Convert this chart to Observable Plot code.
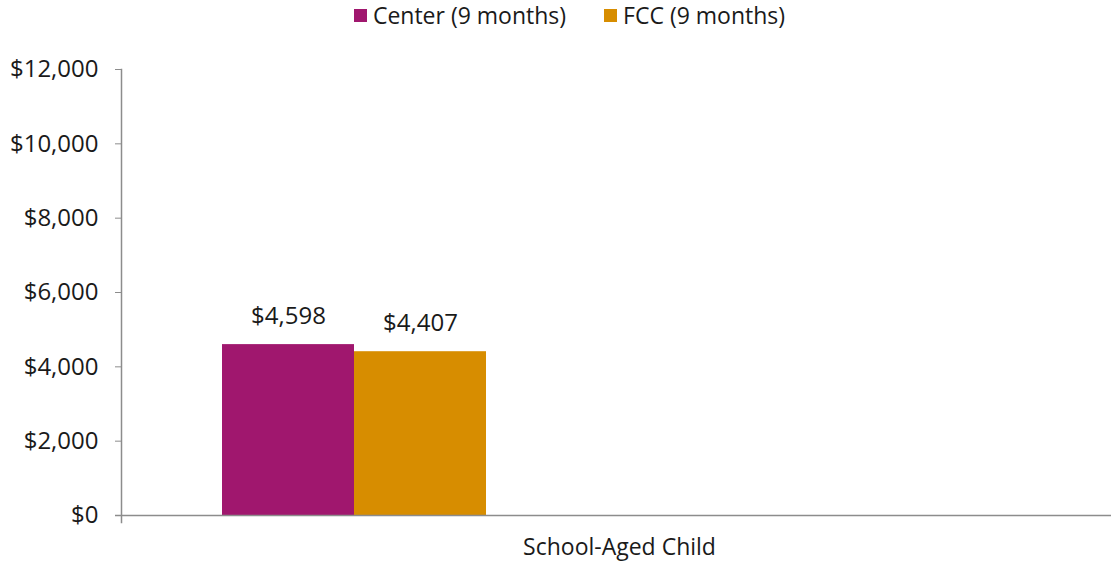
<!DOCTYPE html>
<html>
<head>
<meta charset="utf-8">
<script src="https://cdn.jsdelivr.net/npm/d3@7"></script>
<script src="https://cdn.jsdelivr.net/npm/@observablehq/plot@0.6"></script>
<style>
  html, body { margin: 0; padding: 0; background: #fff; }
  body { width: 1111px; height: 564px; overflow: hidden; font-family: "Open Sans", sans-serif; color: #1a1a1a; }
  #legend { height: 30px; display: flex; justify-content: center; align-items: center; padding-left: 28px; box-sizing: border-box; font-size: 23px; }
  .item { display: flex; align-items: center; margin: 0 19px; }
  .sw { width: 13px; height: 13px; margin-right: 6px; }
</style>
</head>
<body>
<div id="legend"></div>
<div id="chart"></div>
<script>
const categories = ["School-Aged Child"];
const series = ["Center (9 months)", "FCC (9 months)"];
const values = [4598, 4407];
const colors = ["#A0176E", "#D78D00"];
const yTicks = [0, 2000, 4000, 6000, 8000, 10000, 12000];

const data = series.map((s, i) => ({category: categories[0], series: s, value: values[i]}));
const fmt = d => "$" + d3.format(",")(d);

const legend = document.getElementById("legend");
series.forEach((s, i) => {
  const it = document.createElement("div");
  it.className = "item";
  it.innerHTML = `<span class="sw" style="background:${colors[i]}"></span><span>${s}</span>`;
  legend.appendChild(it);
});

const chart = Plot.plot({
  width: 1111,
  height: 534,
  marginTop: 39,
  marginBottom: 49,
  marginLeft: 121,
  marginRight: 0,
  style: {fontFamily: "Open Sans, sans-serif", fontSize: "23px", color: "#1a1a1a", background: "#fff"},
  fx: {domain: categories, padding: 0, label: null},
  x: {domain: series, paddingInner: 0, paddingOuter: 2.74, align: 0.139, axis: null},
  y: {domain: [0, 12000], label: null},
  color: {domain: series, range: colors},
  marks: [
    Plot.barY(data, {fx: "category", x: "series", y: "value", fill: "series"}),
    Plot.text(data, {fx: "category", x: "series", y: "value", text: d => fmt(d.value), dy: -28, fill: "#1a1a1a", fontSize: 24}),
    Plot.ruleY([0], {stroke: "#8c8c8c", strokeWidth: 1.5, insetLeft: -6}),
    Plot.frame({anchor: "left", stroke: "#8c8c8c", strokeWidth: 1.5, insetBottom: -7}),
    Plot.axisY({ticks: yTicks, tickFormat: fmt, tickSize: 6, tickPadding: 17, stroke: "#8c8c8c", fill: "#1a1a1a", label: null, fontSize: 24}),
    Plot.axisFx({anchor: "bottom", tickSize: 0, tickPadding: 23, label: null, dx: 3, fill: "#1a1a1a"})
  ]
});
document.getElementById("chart").appendChild(chart);
</script>
</body>
</html>
